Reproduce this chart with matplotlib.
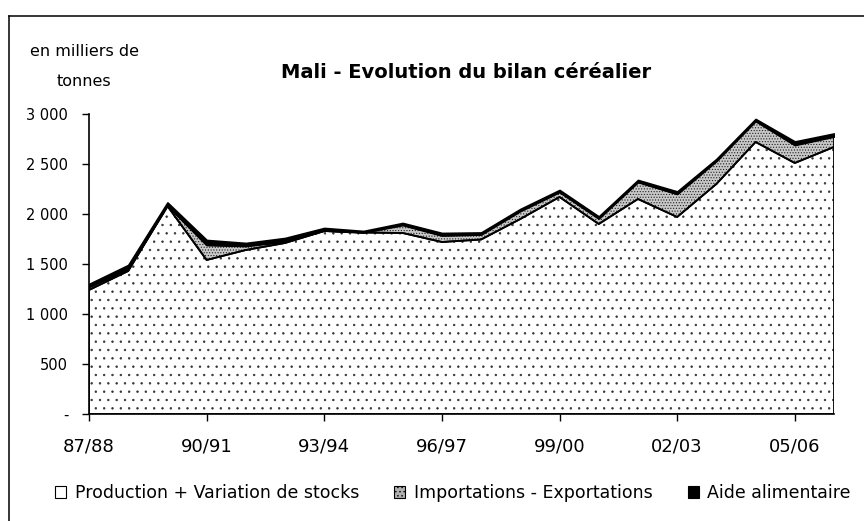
import matplotlib
matplotlib.use("Agg")
import matplotlib.pyplot as plt
import numpy as np
from matplotlib.patches import Patch
from matplotlib.lines import Line2D
from matplotlib.ticker import FuncFormatter, FixedLocator

# campagnes 87/88 .. 06/07
campagnes = ["87/88", "88/89", "89/90", "90/91", "91/92", "92/93", "93/94",
             "94/95", "95/96", "96/97", "97/98", "98/99", "99/00", "00/01",
             "01/02", "02/03", "03/04", "04/05", "05/06", "06/07"]

# en milliers de tonnes
production = [1240, 1430, 2080, 1540, 1640, 1710, 1830, 1815, 1810, 1720,
              1745, 1950, 2170, 1900, 2150, 1970, 2300, 2720, 2510, 2670]
importations = [30, 20, 5, 150, 40, 15, 5, 0, 80, 65,
                50, 80, 50, 55, 170, 230, 230, 210, 180, 105]
aide = [30, 40, 30, 50, 30, 35, 25, 15, 20, 25,
        20, 20, 20, 20, 20, 25, 20, 20, 35, 30]

labels_series = ["Production + Variation de stocks",
                 "Importations - Exportations",
                 "Aide alimentaire"]

plt.rcParams['font.family'] = 'DejaVu Sans'
plt.rcParams['hatch.linewidth'] = 0.5

fig = plt.figure(figsize=(8.64, 5.21), dpi=100)
ax = fig.add_axes([89/864, 1-414/521, (834-89)/864, 300/521])

x = np.arange(len(campagnes))
p = np.array(production, dtype=float)
i = p + np.array(importations)
a = i + np.array(aide)

# motifs (sans contour), puis contours noirs par-dessus
ax.fill_between(x, 0, p, facecolor='white', edgecolor='#333333',
                hatch='..', linewidth=0)
ax.fill_between(x, p, i, facecolor='#c8c8c8', edgecolor='#222222',
                hatch='......', linewidth=0)
ax.fill_between(x, 0, p, facecolor='none', edgecolor='black', linewidth=1.3)
ax.fill_between(x, p, i, facecolor='none', edgecolor='black', linewidth=1.3)
ax.fill_between(x, i, a, facecolor='black', edgecolor='black', linewidth=1.3)

ax.set_xlim(0, len(campagnes) - 1)
ax.set_ylim(0, 3000)

ax.yaxis.set_major_locator(FixedLocator(range(0, 3001, 500)))
ax.yaxis.set_major_formatter(FuncFormatter(
    lambda v, pos: "-" if v == 0 else f"{int(v):,}".replace(",", " ")))
ax.xaxis.set_major_locator(FixedLocator(x[::3]))
ax.set_xticklabels(campagnes[::3])

for s in ['top', 'right']:
    ax.spines[s].set_visible(False)
for s in ['left', 'bottom']:
    ax.spines[s].set_linewidth(1.2)
ax.tick_params(axis='y', direction='out', length=5, width=1, labelsize=10.5, pad=10)
ax.tick_params(axis='x', direction='out', length=5, width=1, labelsize=13, pad=12)

fig.text(84/864, 1-52/521, "en milliers de", ha='center', va='center', fontsize=11.5)
fig.text(84/864, 1-82/521, "tonnes", ha='center', va='center', fontsize=11.5)
fig.text(466/864, 1-72/521, "Mali - Evolution du bilan céréalier",
         ha='center', va='center', fontsize=14, fontweight='bold')

handles = [Patch(facecolor='white', edgecolor='black', linewidth=0.8),
           Patch(facecolor='#b0b0b0', edgecolor='black', hatch='....', linewidth=0.8),
           Patch(facecolor='black', edgecolor='black', linewidth=0.8)]
fig.legend(handles, labels_series, loc='center', ncol=3,
           bbox_to_anchor=(453/864, 1-493/521), frameon=False, fontsize=12.5,
           handlelength=0.65, handleheight=0.65, handletextpad=0.5,
           columnspacing=2.0, borderpad=0)

# cadre du graphique
fig.add_artist(Line2D([8.5/864, 8.5/864], [0, 1-15.5/521], color='black',
                      linewidth=1.1, transform=fig.transFigure))
fig.add_artist(Line2D([8.5/864, 1], [1-15.5/521, 1-15.5/521], color='black',
                      linewidth=1.1, transform=fig.transFigure))

fig.savefig("out.png", dpi=100)
